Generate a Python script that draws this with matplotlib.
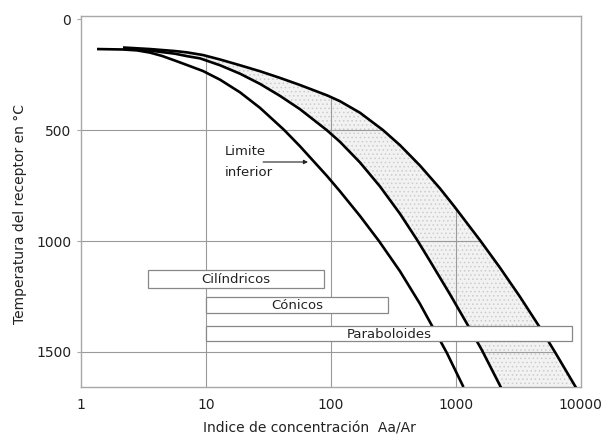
import numpy as np
import matplotlib
matplotlib.use("Agg")
import matplotlib.pyplot as plt

# ---- data ----
left_x = [1.343, 2.169, 2.808, 3.568, 4.452, 5.656, 7.058, 9.480, 12.97, 18.75, 27.12,
          42.21, 56.68, 93.24, 118.5, 171.3, 243.2, 358.1, 517.9, 851.9, 1155]
left_y = [135, 137, 141, 151, 166, 187, 207, 234, 273, 330, 400,
          499, 573, 707, 776, 887, 1000, 1136, 1283, 1505, 1658]

mid_x = [2.169, 3.568, 5.656, 7.058, 8.970, 12.97, 18.75, 27.12, 39.21, 56.68, 92.7,
         118.5, 171.3, 247.7, 358.1, 487.3, 622.7, 900.4, 1225, 1624, 2263, 2305]
mid_y = [133, 142, 156, 167, 177, 208, 246, 292, 346, 406, 500,
         553, 646, 754, 877, 992, 1090, 1240, 1370, 1492, 1651, 1660]

right_x = [2.169, 3.568, 5.656, 7.058, 9.480, 12.97, 18.75, 27.12, 39.21, 56.68, 93.75,
           118.5, 171.3, 261.8, 358.1, 517.9, 748.7, 968.9, 1302, 1565, 2263, 3272,
           4731, 6237, 9189]
right_y = [128, 135, 144, 150, 162, 182, 208, 235, 265, 297, 344,
           370, 422, 500, 568, 660, 763, 842, 937, 996, 1120, 1251,
           1390, 1500, 1660]

box_labels = ["Cilíndricos", "Cónicos", "Paraboloides"]
box_x0 = [3.44, 10, 10]
box_x1 = [88, 287, 8530]
box_ytop = [1131, 1252, 1383]
box_ybot = [1212, 1324, 1451]

x_ticks = [1, 10, 100, 1000, 10000]
x_ticklabels = ["1", "10", "100", "1000", "10000"]
y_ticks = [0, 500, 1000, 1500]
y_ticklabels = ["0", "500", "1000", "1500"]
grid_x = [10, 100, 1000]
grid_y = [500, 1000, 1500]

# ---- figure ----
plt.rcParams['hatch.linewidth'] = 0.6
fig = plt.figure(figsize=(6.02, 4.38), dpi=100)
ax = fig.add_axes([0.1346, 0.1164, 0.8297, 0.8471])
ax.set_xscale("log")
ax.set_xlim(1, 10000)
ax.set_ylim(1658, -14)

frame_c = "#a8a8a8"
grid_c = "#9a9a9a"
txt_c = "#222222"

# grid lines clipped at the outer curve
lrx = np.log10(right_x)
for gx in grid_x:
    y0 = np.interp(np.log10(gx), lrx, right_y)
    ax.plot([gx, gx], [y0, 1658], color=grid_c, lw=0.8, zorder=1)
for gy in grid_y:
    x1 = 10 ** np.interp(gy, right_y, lrx)
    ax.plot([1, x1], [gy, gy], color=grid_c, lw=0.8, zorder=1)

# stippled band between middle and outer curves
px = np.concatenate([right_x, mid_x[::-1]])
py = np.concatenate([right_y, mid_y[::-1]])
ax.fill(px, py, facecolor="#f2f2f2", edgecolor="#cccccc", hatch="....", lw=0, zorder=0.5)

# curves
for xs, ys in [(left_x, left_y), (mid_x, mid_y), (right_x, right_y)]:
    ax.plot(xs, ys, color="black", lw=1.9, zorder=3, solid_capstyle="butt",
            solid_joinstyle="round")

# boxes
for lab, x0, x1, yt, yb in zip(box_labels, box_x0, box_x1, box_ytop, box_ybot):
    ax.barh((yt + yb) / 2, width=x1 - x0, left=x0, height=yb - yt,
            color="white", edgecolor="#888888", lw=0.9, zorder=5)
    ax.text(np.sqrt(x0 * x1), (yt + yb) / 2 + 4, lab, ha="center", va="center",
            fontsize=9.5, color=txt_c, zorder=6)

# annotation
ax.text(14.2, 595, "Limite", fontsize=9.5, ha="left", va="center", color=txt_c, zorder=6)
ax.text(14.2, 692, "inferior", fontsize=9.5, ha="left", va="center", color=txt_c, zorder=6)
ax.annotate("", xy=(65.7, 644), xytext=(28.7, 644),
            arrowprops=dict(arrowstyle="-|>", color=txt_c, lw=0.8,
                            mutation_scale=6, shrinkA=0, shrinkB=0), zorder=6)

# axes styling
for s in ax.spines.values():
    s.set_color(frame_c)
    s.set_linewidth(1.0)
ax.set_xticks(x_ticks)
ax.set_xticklabels(x_ticklabels)
ax.xaxis.set_minor_locator(matplotlib.ticker.NullLocator())
ax.set_yticks(y_ticks)
ax.set_yticklabels(y_ticklabels)
ax.tick_params(axis="x", length=0, pad=8, labelsize=10, labelcolor=txt_c)
ax.tick_params(axis="y", length=3, color=frame_c, pad=4, labelsize=10, labelcolor=txt_c)

fig.text(309 / 602, 1 - 429 / 438, "Indice de concentración  Aa/Ar", fontsize=10,
         color=txt_c, ha="center", va="center")
fig.text(20 / 602, 1 - 214 / 438, "Temperatura del receptor en °C", fontsize=10,
         color=txt_c, ha="center", va="center", rotation=90)

fig.savefig("out.png", dpi=100)
